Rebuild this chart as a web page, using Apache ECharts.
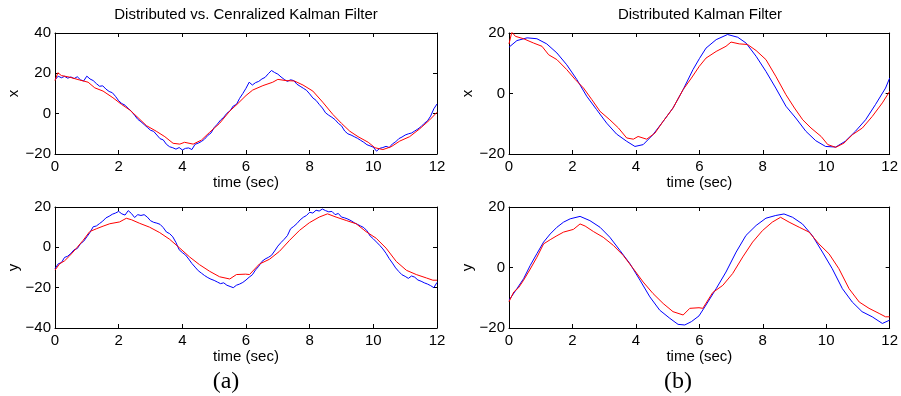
<!DOCTYPE html>
<html>
<head>
<meta charset="utf-8">
<script src="https://cdn.jsdelivr.net/npm/echarts@6/dist/echarts.min.js"></script>
<style>html,body{margin:0;padding:0;background:#fff}#c{width:901px;height:396px}</style>
</head>
<body>
<div id="c"></div>
<script>
// ---------- data ----------
// (a) centralized estimate, x, every 0.1 s from 0 to 12
var blueXA = [16.7,18.6,17.8,18.5,17.6,18.2,17.4,18.3,16.8,16.2,18.6,17.2,16.4,14.9,13.6,13.8,12.2,11.0,10.4,8.6,
6.4,5.0,4.2,2.6,1.2,-0.8,-2.8,-4.0,-5.4,-6.8,-8.2,-8.8,-10.6,-12.4,-13.0,-15.2,-16.4,-16.9,-17.6,-16.8,
-18.0,-17.2,-17.0,-17.8,-15.2,-14.6,-13.8,-12.6,-10.8,-9.6,-6.9,-5.2,-3.2,-1.8,0.2,1.4,3.8,4.6,7.6,10.0,
12.6,15.6,14.2,15.4,16.0,17.2,18.0,19.8,21.4,20.4,19.6,18.2,17.0,16.0,16.8,16.4,14.6,13.6,12.6,11.6,
9.8,7.8,6.6,4.6,2.8,0.4,-0.8,-1.8,-3.0,-4.8,-6.0,-8.6,-10.0,-10.6,-11.4,-12.2,-13.2,-14.2,-15.4,-16.0,
-16.6,-18.6,-17.2,-16.8,-16.2,-16.8,-15.0,-14.0,-12.4,-11.6,-10.6,-10.0,-9.6,-8.6,-7.6,-6.4,-4.8,-3.6,-1.2,2.4,4.8];
// (a) centralized estimate, y, every 0.1 s from 0 to 12
var blueYA = [-10.6,-8.2,-7.6,-5.0,-4.4,-3.0,-1.2,-0.6,1.8,3.0,5.2,7.4,10.2,10.6,11.8,13.0,14.6,15.4,16.4,17.0,
17.8,16.6,16.0,18.2,16.8,14.8,16.2,15.8,16.2,15.0,13.2,12.4,12.0,11.4,9.8,7.6,6.8,5.2,2.4,-1.2,
-2.6,-3.8,-5.8,-8.0,-9.8,-11.6,-12.8,-14.0,-15.0,-15.8,-16.4,-17.2,-18.0,-17.6,-18.8,-19.4,-20.0,-18.8,-18.2,-17.4,
-16.2,-14.8,-13.6,-11.2,-9.4,-7.0,-5.8,-5.0,-4.0,-1.8,0.6,2.4,4.0,5.8,9.2,10.4,11.8,13.6,14.9,15.8,
17.4,17.0,18.4,18.0,19.0,18.2,17.6,17.8,16.2,16.8,15.0,14.6,14.0,13.2,12.2,11.4,10.6,9.8,8.2,5.6,
4.2,2.6,1.0,-0.8,-3.0,-5.6,-7.8,-10.2,-12.0,-13.6,-14.4,-15.4,-14.2,-14.8,-16.2,-16.8,-17.6,-18.2,-19.0,-20.0,-17.4];

// distributed estimate (red), x
var redXT = [0,0.09,0.2,0.46,0.77,1.04,1.25,1.51,1.82,2.09,2.35,2.61,2.87,3.18,3.45,3.71,3.92,4.07,4.34,4.6,4.86,5.17,5.49,5.75,6.0,6.21,6.53,6.84,7.0,7.26,7.52,7.79,8.1,8.41,8.73,9.0,9.26,9.52,9.84,10.05,10.3,10.56,10.83,11.14,11.45,11.77,12];
var redXV = [16.4,20.3,18.9,18.1,16.7,15.6,12.8,11.2,7.9,4.6,1.8,-2,-5.9,-8.7,-11.4,-14.7,-15.1,-14.2,-15.1,-13.1,-9.2,-4.8,1.3,5.1,9,11.7,13.9,15.6,17,16.4,16.2,14.2,11.2,5.7,-0.4,-4.8,-8.7,-11.4,-14.2,-16.9,-17.8,-16.4,-13.6,-11.4,-7.6,-3.1,0.7];
// distributed estimate (red), y
var redYT = [0,0.15,0.3,0.46,0.67,0.88,1.09,1.3,1.51,1.72,2.03,2.24,2.4,2.66,2.97,3.29,3.6,3.92,4.23,4.54,4.86,5.17,5.49,5.7,5.99,6.11,6.42,6.74,7.05,7.37,7.68,7.99,8.3,8.56,8.83,9.15,9.46,9.77,10.09,10.4,10.72,11.04,11.35,11.67,11.87,12];
var redYV = [-11.3,-8.1,-6.7,-4.2,-0.5,3.4,7.8,9.2,10.5,11.7,12.6,14.4,13.7,11.9,10,7.3,4,-0.4,-4.8,-8.6,-11.9,-14.6,-15.7,-13.5,-13.3,-13.5,-8.3,-5.9,-2,3.5,8.4,12.2,15,16.6,15,13.3,11.7,7.8,4.5,-0.4,-7,-11.4,-13.5,-15.2,-16.3,-16.3];

// (b) smooth blue, x
var blueXBT = [0,0.25,0.57,0.88,1.19,1.51,1.82,2.14,2.45,2.76,3.08,3.39,3.71,3.97,4.23,4.54,4.86,5.17,5.49,5.8,6.0,6.21,6.53,6.89,7.21,7.47,7.79,8.1,8.41,8.73,9.04,9.36,9.67,9.98,10.3,10.6,10.92,11.24,11.55,11.87,12];
var blueXBV = [15.3,17.5,18.4,18.1,16.4,13.4,9.5,4.6,-0.9,-5.3,-9.8,-13.4,-15.8,-17.5,-16.9,-13.6,-9.2,-4.8,1.3,7.9,11.5,15,17.8,19.5,18.6,16.7,12.3,7.3,1.8,-4.2,-8.1,-12.5,-15.6,-17.5,-17.7,-15.8,-12.5,-8.7,-3.7,1.8,5.1];
// (b) smooth blue, y
var blueYBT = [0,0.25,0.46,0.67,0.88,1.09,1.3,1.51,1.72,1.93,2.24,2.55,2.87,3.18,3.5,3.81,4.13,4.44,4.75,5.07,5.33,5.54,5.75,5.99,6.21,6.53,6.84,7.16,7.47,7.79,8.1,8.41,8.67,8.94,9.25,9.56,9.88,10.19,10.51,10.82,11.13,11.45,11.77,12];
var blueYBV = [-10.8,-7,-3.7,0.7,4.6,8.4,11.1,13.3,15,16.1,16.9,15.5,13.3,10,5.6,1.3,-4.2,-9.7,-14.1,-16.8,-18.8,-19,-17.9,-16,-12.4,-7,-1.5,5.1,10.6,13.9,16.3,17.2,17.7,16.6,14.4,10.6,5.1,-0.4,-7,-11.4,-14.6,-16.3,-18.5,-17.4];

var xTicks = [0, 2, 4, 6, 8, 10, 12];
var titles = ['Distributed vs. Cenralized Kalman Filter', 'Distributed Kalman Filter'];
var panelLabels = ['(a)', '(b)'];

// ---------- build ----------
function uniform(vals, step) { return vals.map(function (v, i) { return [+(i * step).toFixed(2), v]; }); }
function pairs(ts, vs) { return ts.map(function (t, i) { return [t, vs[i]]; }); }

var FONT = 'Liberation Sans';
var grids = [
  { left: 55, top: 33, width: 382, height: 121 },
  { left: 509, top: 33, width: 382, height: 121 },
  { left: 55, top: 207, width: 382, height: 121 },
  { left: 509, top: 207, width: 382, height: 121 }
];
var yRanges = [[-20, 40], [-20, 20], [-40, 20], [-20, 20]];
var yNames = ['x', 'x', 'y', 'y'];
function fmt(v) { return String(v).replace('-', '\u2212'); }

var xAxis = [], yAxis = [];
grids.forEach(function (g, i) {
  var line = { show: true, onZero: false, lineStyle: { color: '#000', width: 1 } };
  var tick = { show: true, inside: true, length: 4, lineStyle: { color: '#000', width: 1 } };
  xAxis.push({ type: 'value', gridIndex: i, position: 'bottom', min: 0, max: 12, interval: 2,
    axisLine: line, axisTick: tick, splitLine: { show: false },
    axisLabel: { color: '#000', fontSize: 15, fontFamily: FONT, margin: 5, formatter: fmt },
    name: 'time (sec)', nameLocation: 'middle', nameGap: 19,
    nameTextStyle: { color: '#000', fontSize: 15, fontFamily: FONT } });
  xAxis.push({ type: 'value', gridIndex: i, position: 'top', min: 0, max: 12, interval: 2,
    axisLine: line, axisTick: tick, splitLine: { show: false }, axisLabel: { show: false } });
  yAxis.push({ type: 'value', gridIndex: i, position: 'left', min: yRanges[i][0], max: yRanges[i][1], interval: 20,
    axisLine: line, axisTick: tick, splitLine: { show: false },
    axisLabel: { color: '#000', fontSize: 15, fontFamily: FONT, margin: 4, formatter: fmt },
    name: yNames[i], nameLocation: 'middle', nameGap: 32, nameRotate: 90,
    nameTextStyle: { color: '#000', fontSize: 15, fontFamily: FONT } });
  yAxis.push({ type: 'value', gridIndex: i, position: 'right', min: yRanges[i][0], max: yRanges[i][1], interval: 20,
    axisLine: line, axisTick: tick, splitLine: { show: false }, axisLabel: { show: false } });
});

function ser(i, data, color) {
  return { type: 'line', xAxisIndex: 2 * i, yAxisIndex: 2 * i, data: data, showSymbol: false, symbol: 'none',
    lineStyle: { color: color, width: 1 }, itemStyle: { color: color }, animation: false, silent: true };
}
var series = [
  ser(0, uniform(blueXA, 0.1), '#0000ff'), ser(0, pairs(redXT, redXV), '#ff0000'),
  ser(1, pairs(blueXBT, blueXBV), '#0000ff'), ser(1, pairs(redXT, redXV), '#ff0000'),
  ser(2, uniform(blueYA, 0.1), '#0000ff'), ser(2, pairs(redYT, redYV), '#ff0000'),
  ser(3, pairs(blueYBT, blueYBV), '#0000ff'), ser(3, pairs(redYT, redYV), '#ff0000')
];

function txt(s, x, y, font) {
  return { type: 'text', x: x, y: y, silent: true,
    style: { text: s, font: font, fill: '#000', align: 'center', verticalAlign: 'middle' } };
}
var graphic = [
  txt(titles[0], 246, 15, '15px "Liberation Sans"'),
  txt(titles[1], 700, 15, '15px "Liberation Sans"'),
  txt(panelLabels[0], 226, 382, '24px "Liberation Serif"'),
  txt(panelLabels[1], 678, 382, '24px "Liberation Serif"')
];

var chart = echarts.init(document.getElementById('c'), null, { renderer: 'canvas' });
chart.setOption({ animation: false, backgroundColor: '#fff', grid: grids, xAxis: xAxis, yAxis: yAxis, series: series, graphic: graphic });
</script>
</body>
</html>
